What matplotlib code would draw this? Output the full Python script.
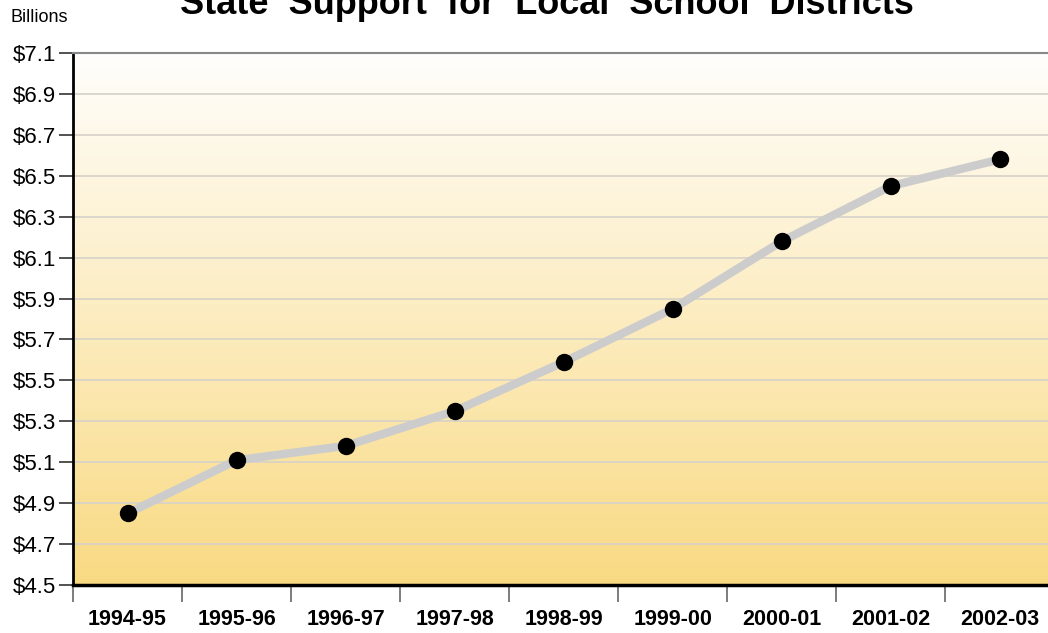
import numpy as np
import matplotlib
matplotlib.use("Agg")
import matplotlib.pyplot as plt
from matplotlib.colors import LinearSegmentedColormap

categories = ["1994-95", "1995-96", "1996-97", "1997-98", "1998-99",
              "1999-00", "2000-01", "2001-02", "2002-03"]
values = [4.85, 5.11, 5.18, 5.35, 5.59, 5.85, 6.18, 6.45, 6.58]
ytick_values = [4.5, 4.7, 4.9, 5.1, 5.3, 5.5, 5.7, 5.9, 6.1, 6.3, 6.5, 6.7, 6.9, 7.1]
ytick_labels = ["$" + f"{v:.1f}" for v in ytick_values]

plt.rcParams['font.family'] = ['Liberation Sans', 'DejaVu Sans']

fig = plt.figure(figsize=(10.48, 6.33), dpi=100)
W, H = 1048, 633
ax = fig.add_axes([73 / W, (H - 585) / H, (W - 73) / W, (585 - 53) / H])

x = np.arange(len(categories))
ymin, ymax = 4.5, 7.1
xmin, xmax = -0.5, 8.44
ax.set_xlim(xmin, xmax)
ax.set_ylim(ymin, ymax)

# background gradient
cmap = LinearSegmentedColormap.from_list("bg", ["#F9DA83", "#FFFEFC"])
grad = np.linspace(0, 1, 256).reshape(-1, 1)
ax.imshow(grad, cmap=cmap, origin="lower", aspect="auto",
          extent=[xmin, xmax, ymin, ymax], zorder=0)

for v in ytick_values[1:-1]:
    ax.axhline(v, color="#D6D2CA", lw=1.2, zorder=1)

ax.plot(x, values, color="#CCCCCC", lw=6, zorder=3, solid_capstyle="round")
ax.plot(x, values, "o", color="black", ms=11.5, zorder=4)

ax.set_yticks(ytick_values)
ax.set_yticklabels(ytick_labels, fontsize=16)
ax.tick_params(axis="y", direction="out", length=10, width=1.2, color="#333333", pad=2)

ax.set_xticks(np.arange(-0.5, 8.5, 1.0))
ax.set_xticklabels([])
ax.tick_params(axis="x", which="major", direction="out", length=12, width=1.2, color="#666666")
ax.set_xticks(x, minor=True)
ax.set_xticklabels(categories, minor=True, fontsize=15.5, fontweight="bold")
ax.tick_params(axis="x", which="minor", length=0, pad=17)

ax.spines["left"].set_color("black")
ax.spines["left"].set_linewidth(2)
ax.spines["bottom"].set_color("black")
ax.spines["bottom"].set_linewidth(2.5)
ax.spines["top"].set_color("#888888")
ax.spines["top"].set_linewidth(1.5)
ax.spines["right"].set_visible(False)

fig.text(10 / W, 1 - 18 / H, "Billions", fontsize=13, va="center", ha="left")
fig.text(547 / W, 1 - 14 / H, "State  Support  for  Local  School  Districts",
         fontsize=26, fontweight="bold", ha="center", va="baseline")

fig.savefig("out.png", dpi=100)
